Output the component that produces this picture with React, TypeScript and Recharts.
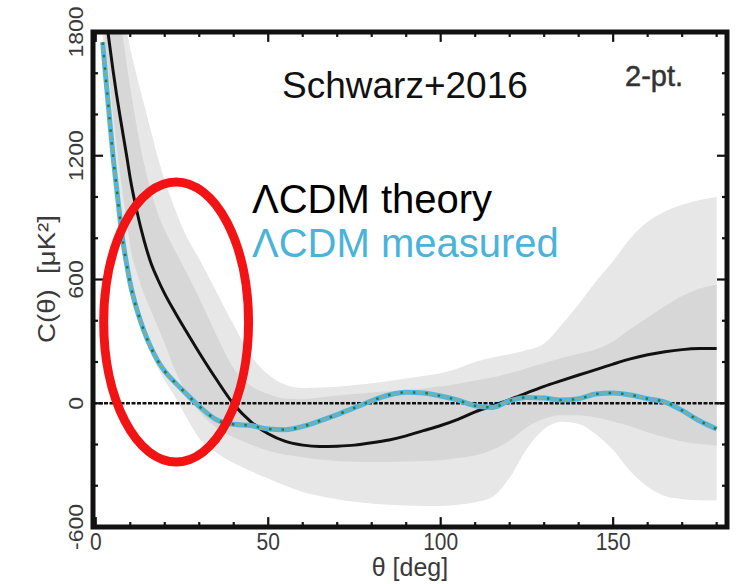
import React from "react";
import {
  ComposedChart,
  Area,
  Line,
  XAxis,
  YAxis,
  ReferenceLine,
  ReferenceArea,
} from "recharts";

// angular separation, deg
const THETA = [
  2, 3, 4, 5, 6, 7, 8, 9, 10, 12, 14, 16, 18, 20, 23, 26, 30, 35, 40, 45, 50,
  55, 60, 65, 70, 75, 80, 85, 90, 95, 100, 105, 110, 115, 120, 125, 130, 135,
  140, 145, 150, 155, 160, 165, 170, 175, 180,
];

// LCDM theory C(theta), uK^2
const THEORY = [
  2000, 1870, 1740, 1615, 1500, 1395, 1295, 1195, 1090, 925, 790, 680, 600,
  530, 440, 355, 245, 115, -5, -90, -148, -185, -203, -210, -208, -203, -192,
  -178, -158, -133, -108, -78, -42, -12, 18, 50, 82, 110, 137, 163, 190, 215,
  235, 250, 260, 265, 266,
];

// measured C(theta)
const MEASURED = [
  1750, 1560, 1380, 1200, 1050, 900, 770, 670, 580, 450, 350, 270, 205, 155,
  100, 50, -15, -80, -102, -108, -125, -128, -112, -85, -55, -22, 12, 40, 53,
  50, 35, 15, -12, -20, 12, 28, 25, 16, 22, 45, 50, 40, 22, 6, -35, -85, -125,
];

// 68% band
const INNER_LO = [
  1900, 1720, 1560, 1400, 1260, 1120, 1000, 880, 760, 630, 530, 450, 370, 290,
  160, 60, -40, -120, -165, -200, -230, -250, -262, -273, -280, -284, -285,
  -285, -283, -280, -276, -266, -252, -225, -180, -115, -75, -58, -58, -68,
  -88, -112, -140, -165, -185, -198, -205,
];
const INNER_HI = [
  2700, 2450, 2250, 2100, 1980, 1870, 1760, 1640, 1530, 1330, 1160, 1030, 920,
  840, 740, 644, 510, 330, 170, 85, 45, 22, 20, 28, 38, 45, 52, 58, 63, 72, 82,
  95, 110, 125, 145, 170, 195, 220, 240, 262, 300, 360, 416, 470, 520, 555,
  575,
];

// 95% band
const OUTER_LO = [
  1700, 1520, 1340, 1170, 1020, 880, 750, 640, 550, 420, 320, 240, 170, 110,
  30, -60, -170, -240, -290, -330, -365, -400, -430, -450, -465, -478, -486,
  -492, -496, -498, -498, -492, -480, -455, -360, -220, -125, -90, -100, -150,
  -227, -330, -405, -450, -465, -470, -472,
];
const OUTER_HI = [
  2800, 2500, 2300, 2150, 2050, 1950, 1870, 1800, 1720, 1580, 1450, 1320,
  1190, 1080, 940, 820, 700, 540, 380, 230, 140, 90, 74, 76, 80, 88, 97, 108,
  120, 132, 145, 170, 200, 222, 238, 258, 290, 380, 480, 590, 690, 800, 880,
  930, 962, 985, 1000,
];

const X_TICKS = [0, 10, 20, 30, 40, 50, 60, 70, 80, 90, 100, 110, 120, 130, 140, 150, 160, 170, 180];
const Y_TICKS = [-600, -400, -200, 0, 200, 400, 600, 800, 1000, 1200, 1400, 1600, 1800];
const X_DOMAIN = [-0.8, 183];
const Y_DOMAIN = [-600, 1800];

// the red ring marks the small-angle region (data units)
const RING_THETA = [2.3, 44.3];
const RING_C = [-285, 1073];

const rows = THETA.map((t, i) => ({
  theta: t,
  theory: THEORY[i],
  measured: MEASURED[i],
  inner: [INNER_LO[i], INNER_HI[i]],
  outer: [OUTER_LO[i], OUTER_HI[i]],
}));

const FONT = "'Helvetica Neue', 'Liberation Sans', Arial, sans-serif";
const AXIS = "#111";
const LABEL = "#3a3a3a";

// inward tick lengths in data units (about 10px major / 5px minor)
const XT_MAJOR = 48;
const XT_MINOR = 24;
const YT_MAJOR = 2.9;
const YT_MINOR = 1.45;
const isMajorX = (t: number) => t % 50 === 0;
const isMajorY = (v: number) => v % 600 === 0;

const bottomTick = (props: any) => {
  const { x, y, payload } = props;
  if (!isMajorX(payload.value)) return <g />;
  return (
    <text
      transform={`translate(${x},${y + 23}) scale(1,1.15)`}
      textAnchor="middle"
      fontFamily={FONT}
      fontSize={21}
      fill={LABEL}
    >
      {payload.value}
    </text>
  );
};

const leftTick = (props: any) => {
  const { x, y, payload } = props;
  if (!isMajorY(payload.value)) return <g />;
  return (
    <text
      transform={`translate(${x - 17},${y}) scale(1,1.15) rotate(-90)`}
      textAnchor="middle"
      dominantBaseline="central"
      fontFamily={FONT}
      fontSize={20}
      fill={LABEL}
    >
      {payload.value}
    </text>
  );
};

const Ring = (props: any) => {
  const { x, y, width, height } = props;
  return (
    <ellipse
      cx={x + width / 2}
      cy={y + height / 2}
      rx={Math.abs(width) / 2}
      ry={Math.abs(height) / 2}
      fill="none"
      stroke="#f21414"
      strokeWidth={9}
    />
  );
};

const Frame = (props: any) => {
  const { x, y, width, height } = props;
  return <rect x={x} y={y} width={width} height={height} fill="none" stroke={AXIS} strokeWidth={5} />;
};

export default function App() {
  const tickLine = { stroke: AXIS, strokeWidth: 2.2, ifOverflow: "visible" as const, zIndex: 1300 };
  return (
    <div style={{ position: "absolute", left: 0, top: 0, width: 744, height: 584, background: "#fff" }}>
      <ComposedChart
        width={744}
        height={584}
        data={rows}
        margin={{ top: 32, right: 17, bottom: 0, left: 0 }}
      >
        <XAxis
          dataKey="theta"
          type="number"
          domain={X_DOMAIN}
          allowDataOverflow
          ticks={X_TICKS}
          interval={0}
          height={57}
          tickSize={0}
          tickMargin={0}
          tickLine={false}
          axisLine={false}
          tick={bottomTick}
        />
        <YAxis
          type="number"
          domain={Y_DOMAIN}
          allowDataOverflow
          ticks={Y_TICKS}
          interval={0}
          width={93}
          tickSize={0}
          tickMargin={0}
          tickLine={false}
          axisLine={false}
          tick={leftTick}
        />
        <Area
          dataKey="outer"
          type="monotone"
          fill="#e7e7e7"
          fillOpacity={1}
          stroke="none"
          isAnimationActive={false}
        />
        <Area
          dataKey="inner"
          type="monotone"
          fill="#d7d7d7"
          fillOpacity={1}
          stroke="none"
          isAnimationActive={false}
        />
        <ReferenceLine y={0} stroke="#111" strokeWidth={2.4} strokeDasharray="4 1.5" />
        <Line
          dataKey="theory"
          type="monotone"
          stroke="#111"
          strokeWidth={3}
          dot={false}
          isAnimationActive={false}
        />
        <Line
          dataKey="measured"
          type="monotone"
          stroke="#4fb6df"
          strokeWidth={5}
          dot={false}
          isAnimationActive={false}
        />
        <Line
          dataKey="measured"
          type="monotone"
          stroke="#3c7420"
          strokeWidth={2.5}
          strokeDasharray="2.5 10"
          dot={false}
          isAnimationActive={false}
        />
        <Line
          dataKey="measured"
          type="monotone"
          stroke="#d49a30"
          strokeWidth={2}
          strokeDasharray="0 6 2 4.5"
          dot={false}
          isAnimationActive={false}
        />
        {X_TICKS.map((t) => (
          <ReferenceLine
            key={`xb${t}`}
            segment={[
              { x: t, y: Y_DOMAIN[0] },
              { x: t, y: Y_DOMAIN[0] + (isMajorX(t) ? XT_MAJOR : XT_MINOR) },
            ]}
            {...tickLine}
          />
        ))}
        {X_TICKS.map((t) => (
          <ReferenceLine
            key={`xt${t}`}
            segment={[
              { x: t, y: Y_DOMAIN[1] },
              { x: t, y: Y_DOMAIN[1] - (isMajorX(t) ? XT_MAJOR : XT_MINOR) },
            ]}
            {...tickLine}
          />
        ))}
        {Y_TICKS.map((v) => (
          <ReferenceLine
            key={`yl${v}`}
            segment={[
              { x: X_DOMAIN[0], y: v },
              { x: X_DOMAIN[0] + (isMajorY(v) ? YT_MAJOR : YT_MINOR), y: v },
            ]}
            {...tickLine}
          />
        ))}
        {Y_TICKS.map((v) => (
          <ReferenceLine
            key={`yr${v}`}
            segment={[
              { x: X_DOMAIN[1], y: v },
              { x: X_DOMAIN[1] - (isMajorY(v) ? YT_MAJOR : YT_MINOR), y: v },
            ]}
            {...tickLine}
          />
        ))}
        <ReferenceArea
          x1={X_DOMAIN[0]}
          x2={X_DOMAIN[1]}
          y1={Y_DOMAIN[0]}
          y2={Y_DOMAIN[1]}
          ifOverflow="visible"
          shape={Frame}
          zIndex={1400}
        />
        <ReferenceArea
          x1={RING_THETA[0]}
          x2={RING_THETA[1]}
          y1={RING_C[0]}
          y2={RING_C[1]}
          shape={Ring}
          zIndex={1500}
        />
      </ComposedChart>
      <svg
        width={744}
        height={584}
        style={{ position: "absolute", left: 0, top: 0, pointerEvents: "none" }}
      >
        <text x={282} y={98} fontFamily={FONT} fontSize={37} fill="#111">
          Schwarz+2016
        </text>
        <text x={625} y={86} fontFamily={FONT} fontSize={29} fill="#333" stroke="#333" strokeWidth={0.5}>
          2-pt.
        </text>
        <text x={252} y={213} fontFamily={FONT} fontSize={40} fill="#000">
          ΛCDM theory
        </text>
        <text x={252} y={257} fontFamily={FONT} fontSize={40} fill="#4ab3d9">
          ΛCDM measured
        </text>
        <text
          transform="translate(47,279) scale(1,1.15) rotate(-90)"
          textAnchor="middle"
          dominantBaseline="central"
          fontFamily={FONT}
          fontSize={24}
          fill={LABEL}
        >
          {"C(θ)\u00a0\u00a0[μK²]"}
        </text>
        <text x={410} y={576} textAnchor="middle" fontFamily={FONT} fontSize={25} fill={LABEL}>
          θ [deg]
        </text>
      </svg>
    </div>
  );
}
